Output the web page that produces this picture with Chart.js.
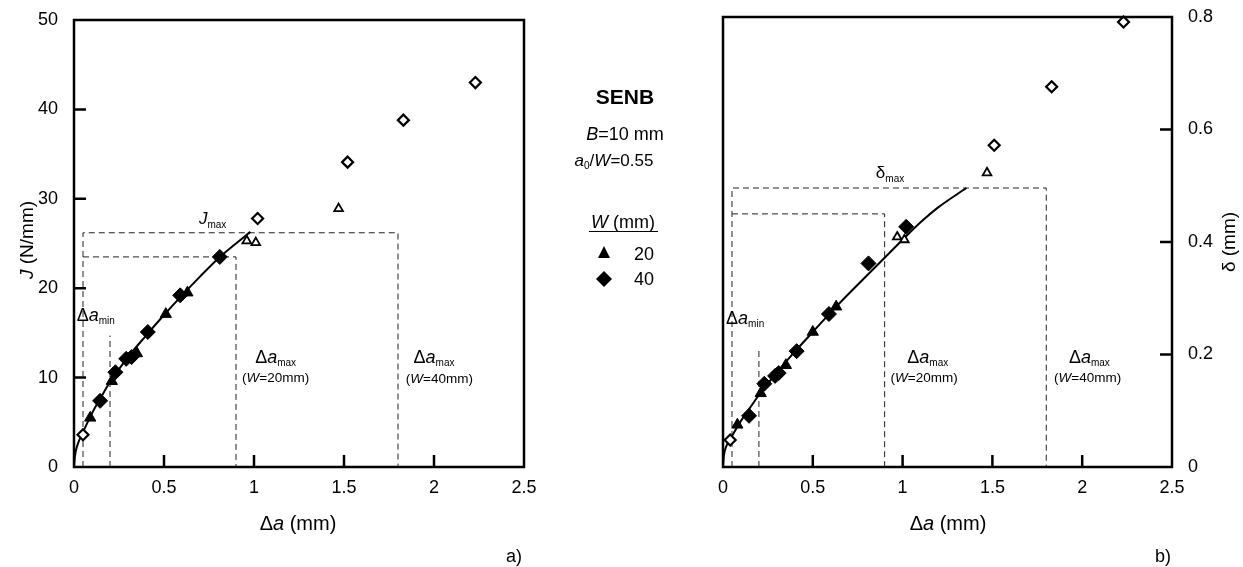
<!DOCTYPE html>
<html><head><meta charset="utf-8">
<script src="https://cdn.jsdelivr.net/npm/chart.js@4"></script>
<style>
html,body{margin:0;padding:0;background:#fff;width:1243px;height:567px;overflow:hidden}
#wl{position:absolute;left:0;top:0;width:700px;height:567px}
#wr{position:absolute;left:700px;top:0;width:543px;height:567px}
</style></head><body>
<div id="wl"><canvas id="cl"></canvas></div>
<div id="wr"><canvas id="cr"></canvas></div>
<script>
// ---------- DATA ----------
const xTickVals = [0, 0.5, 1, 1.5, 2, 2.5];
const xTickLabels = ['0', '0.5', '1', '1.5', '2', '2.5'];
const jTickVals = [0, 10, 20, 30, 40, 50];
const jTickLabels = ['0', '10', '20', '30', '40', '50'];
const dTickVals = [0, 0.2, 0.4, 0.6, 0.8];
const dTickLabels = ['0', '0.2', '0.4', '0.6', '0.8'];

// (a) J - Δa
const jW20_da = [0.09, 0.21, 0.35, 0.51, 0.63];
const jW20_J  = [5.5, 9.6, 12.7, 17.1, 19.5];
const jW40_da = [0.145, 0.23, 0.29, 0.32, 0.41, 0.59, 0.81];
const jW40_J  = [7.4, 10.6, 12.1, 12.3, 15.1, 19.2, 23.5];
const jW40open_da = [0.05, 1.02, 1.52, 1.83, 2.23];
const jW40open_J  = [3.6, 27.8, 34.1, 38.8, 43.0];
const jW20open_da = [0.96, 1.01, 1.47];
const jW20open_J  = [25.3, 25.1, 28.9];
const jFit_da = [0, 0.005, 0.02, 0.05, 0.1, 0.15, 0.2, 0.3, 0.4, 0.5, 0.6, 0.7, 0.8, 0.9, 0.98];
const jFit_J  = [0, 1.2, 2.5, 3.9, 6.0, 7.8, 9.5, 12.3, 14.7, 17.0, 19.2, 21.3, 23.3, 25.0, 26.3];
const jGuideOuter_da = [0.05, 0.05, 1.8, 1.8];
const jGuideOuter_J  = [0, 26.2, 26.2, 0];
const jGuideInner_da = [0.05, 0.9, 0.9];
const jGuideInner_J  = [23.5, 23.5, 0];
const jGuideMin_da = [0.2, 0.2];
const jGuideMin_J  = [0, 14.7];

// (b) δ - Δa
const dW20_da = [0.08, 0.21, 0.35, 0.50, 0.63];
const dW20_d  = [0.075, 0.131, 0.181, 0.24, 0.285];
const dW40_da = [0.145, 0.23, 0.29, 0.31, 0.41, 0.59, 0.81, 1.02];
const dW40_d  = [0.091, 0.148, 0.162, 0.167, 0.206, 0.272, 0.362, 0.427];
const dW40open_da = [0.04, 1.51, 1.83, 2.23];
const dW40open_d  = [0.048, 0.572, 0.676, 0.791];
const dW20open_da = [0.97, 1.01, 1.47];
const dW20open_d  = [0.409, 0.404, 0.523];
const dFit_da = [0, 0.005, 0.02, 0.05, 0.1, 0.15, 0.2, 0.3, 0.4, 0.5, 0.6, 0.7, 0.8, 0.9, 1.0, 1.1, 1.2, 1.355];
const dFit_d  = [0, 0.02, 0.038, 0.055, 0.082, 0.105, 0.128, 0.168, 0.205, 0.24, 0.275, 0.308, 0.34, 0.372, 0.404, 0.435, 0.462, 0.496];
const dGuideOuter_da = [0.05, 0.05, 1.8, 1.8];
const dGuideOuter_d  = [0, 0.496, 0.496, 0];
const dGuideInner_da = [0.05, 0.9, 0.9];
const dGuideInner_d  = [0.45, 0.45, 0];
const dGuideMin_da = [0.2, 0.2];
const dGuideMin_d  = [0, 0.211];

// ---------- HELPERS ----------
const F = '"Liberation Sans", Arial, Helvetica, sans-serif';
const fnt = (sz, st) => (st || '') + ' ' + sz + 'px ' + F;
const zip = (xs, ys) => xs.map((x, i) => ({x: x, y: ys[i]}));

function rich(ctx, x, y, segs, align) {
  let w = 0;
  for (const s of segs) { ctx.font = fnt(s[1], s[2]); w += ctx.measureText(s[0]).width; }
  let cx = align === 'center' ? x - w / 2 : align === 'right' ? x - w : x;
  ctx.textAlign = 'left'; ctx.textBaseline = 'alphabetic'; ctx.fillStyle = '#000';
  for (const s of segs) {
    ctx.font = fnt(s[1], s[2]);
    ctx.fillText(s[0], cx, y + (s[3] || 0));
    cx += ctx.measureText(s[0]).width;
  }
  return w;
}

const lineDs = (data) => ({data, showLine: true, pointRadius: 0, borderColor: '#000', backgroundColor: '#000', borderWidth: 2, cubicInterpolationMode: 'monotone', order: 5});
const guideDs = (data) => ({data, showLine: true, pointRadius: 0, borderColor: '#222', borderWidth: 1, borderDash: [6, 4], tension: 0, order: 6});
const ptDs = (data, style, r, filled, bw) => ({data, showLine: false, pointStyle: style, pointRadius: r, pointHoverRadius: r,
  backgroundColor: filled ? '#000' : '#fff', borderColor: '#000', borderWidth: bw, clip: false, order: 1});

function xScale() {
  return {type: 'linear', min: 0, max: 2.5,
    afterBuildTicks: s => { s.ticks = xTickVals.map(v => ({value: v})); },
    ticks: {callback: (v, i) => xTickLabels[i], font: {family: F, size: 18}, color: '#000', padding: 10, maxRotation: 0, autoSkip: false},
    grid: {display: false, drawTicks: false}, border: {display: false},
    afterFit: s => { s.height = 100; s.paddingLeft = 0; s.paddingRight = 0; }};
}

function decor(side, yVals, extra) {
  return {
    id: 'decor',
    afterDatasetsDraw(chart) {
      const ctx = chart.ctx, a = chart.chartArea, xs = chart.scales.x, ys = chart.scales.y;
      ctx.save();
      extra(ctx, xs, ys, a);
      ctx.strokeStyle = '#000'; ctx.lineWidth = 2.5; ctx.lineCap = 'butt';
      ctx.strokeRect(a.left, a.top, a.right - a.left, a.bottom - a.top);
      ctx.beginPath();
      for (const v of xTickVals.slice(1, -1)) {
        const px = xs.getPixelForValue(v);
        ctx.moveTo(px, a.bottom); ctx.lineTo(px, a.bottom - 12);
      }
      for (const v of yVals.slice(1, -1)) {
        const py = ys.getPixelForValue(v);
        if (side === 'left') { ctx.moveTo(a.left, py); ctx.lineTo(a.left + 12, py); }
        else { ctx.moveTo(a.right, py); ctx.lineTo(a.right - 12, py); }
      }
      ctx.stroke();
      ctx.restore();
    }
  };
}

const daSegs = (sub) => [['\u0394', 18], ['a', 18, 'italic'], [sub, 10, '', 3]];
const wSegs = (n) => [['(', 13.5], ['W', 13.5, 'italic'], ['=' + n + 'mm)', 13.5]];

// ---------- LEFT CHART (a) ----------
new Chart(document.getElementById('cl'), {
  type: 'scatter',
  data: {datasets: [
    ptDs(zip(jW40_da, jW40_J), 'rectRot', 7.5, true, 1),
    ptDs(zip(jW20_da, jW20_J), 'triangle', 6.5, true, 1),
    ptDs(zip(jW40open_da, jW40open_J), 'rectRot', 5.5, false, 2.2),
    ptDs(zip(jW20open_da, jW20open_J), 'triangle', 5, false, 1.8),
    lineDs(zip(jFit_da, jFit_J)),
    guideDs(zip(jGuideOuter_da, jGuideOuter_J)),
    guideDs(zip(jGuideInner_da, jGuideInner_J)),
    guideDs(zip(jGuideMin_da, jGuideMin_J))
  ]},
  options: {
    responsive: true, maintainAspectRatio: false, animation: false, devicePixelRatio: 1,
    layout: {padding: {top: 20, left: 0, right: 176, bottom: 0}},
    plugins: {legend: {display: false}, tooltip: {enabled: false}},
    events: [],
    scales: {
      x: xScale(),
      y: {type: 'linear', position: 'left', min: 0, max: 50,
        afterBuildTicks: s => { s.ticks = jTickVals.map(v => ({value: v})); },
        ticks: {callback: (v, i) => jTickLabels[i], font: {family: F, size: 18}, color: '#000', padding: 16, autoSkip: false},
        grid: {display: false, drawTicks: false}, border: {display: false},
        afterFit: s => { s.width = 74; s.paddingTop = 0; s.paddingBottom = 0; }}
    }
  },
  plugins: [decor('left', jTickVals, (ctx, xs, ys, a) => {
    const X = v => xs.getPixelForValue(v), Y = v => ys.getPixelForValue(v);
    rich(ctx, X(0.77), Y(27.8) + 6, [['J', 17, 'italic'], ['max', 10, '', 4]], 'center');
    rich(ctx, X(0.015), Y(17) + 6, daSegs('min'), 'left');
    rich(ctx, X(1.12), Y(12.3) + 6, daSegs('max'), 'center');
    rich(ctx, X(1.12), Y(10.1) + 5, wSegs(20), 'center');
    rich(ctx, X(2.0), Y(12.3) + 6, daSegs('max'), 'center');
    rich(ctx, X(2.03), Y(9.9) + 5, wSegs(40), 'center');
    // axis titles
    rich(ctx, 298, 530, [['\u0394', 20], ['a', 20, 'italic'], [' (mm)', 20]], 'center');
    ctx.save(); ctx.translate(26, 240); ctx.rotate(-Math.PI / 2);
    rich(ctx, 0, 7, [['J', 19, 'italic'], [' (N/mm)', 19]], 'center');
    ctx.restore();
    rich(ctx, 514, 562, [['a)', 18]], 'center');
    // central legend block
    rich(ctx, 625, 104, [['SENB', 21, 'bold']], 'center');
    rich(ctx, 625, 140, [['B', 18, 'italic'], ['=10 mm', 18]], 'center');
    rich(ctx, 614, 166, [['a', 17, 'italic'], ['0', 10, '', 3], ['/', 17], ['W', 17, 'italic'], ['=0.55', 17]], 'center');
    rich(ctx, 623, 228, [['W', 18, 'italic'], [' (mm)', 18]], 'center');
    ctx.strokeStyle = '#000'; ctx.lineWidth = 1.2;
    ctx.beginPath(); ctx.moveTo(589, 231.5); ctx.lineTo(658, 231.5); ctx.stroke();
    ctx.fillStyle = '#000';
    ctx.beginPath(); ctx.moveTo(604, 246); ctx.lineTo(610, 258); ctx.lineTo(598, 258); ctx.closePath(); ctx.fill();
    ctx.beginPath(); ctx.moveTo(604, 271); ctx.lineTo(612, 279); ctx.lineTo(604, 287); ctx.lineTo(596, 279); ctx.closePath(); ctx.fill();
    rich(ctx, 634, 260, [['20', 18]], 'left');
    rich(ctx, 634, 285, [['40', 18]], 'left');
  })]
});

// ---------- RIGHT CHART (b) ----------
new Chart(document.getElementById('cr'), {
  type: 'scatter',
  data: {datasets: [
    ptDs(zip(dW40_da, dW40_d), 'rectRot', 7.5, true, 1),
    ptDs(zip(dW20_da, dW20_d), 'triangle', 6.5, true, 1),
    ptDs(zip(dW40open_da, dW40open_d), 'rectRot', 5.5, false, 2.2),
    ptDs(zip(dW20open_da, dW20open_d), 'triangle', 5, false, 1.8),
    lineDs(zip(dFit_da, dFit_d)),
    guideDs(zip(dGuideOuter_da, dGuideOuter_d)),
    guideDs(zip(dGuideInner_da, dGuideInner_d)),
    guideDs(zip(dGuideMin_da, dGuideMin_d))
  ]},
  options: {
    responsive: true, maintainAspectRatio: false, animation: false, devicePixelRatio: 1,
    layout: {padding: {top: 17, left: 23, right: 0, bottom: 0}},
    plugins: {legend: {display: false}, tooltip: {enabled: false}},
    events: [],
    scales: {
      x: xScale(),
      y: {type: 'linear', position: 'right', min: 0, max: 0.8,
        afterBuildTicks: s => { s.ticks = dTickVals.map(v => ({value: v})); },
        ticks: {callback: (v, i) => dTickLabels[i], font: {family: F, size: 18}, color: '#000', padding: 16, autoSkip: false},
        grid: {display: false, drawTicks: false}, border: {display: false},
        afterFit: s => { s.width = 71; s.paddingTop = 0; s.paddingBottom = 0; }}
    }
  },
  plugins: [decor('right', dTickVals, (ctx, xs, ys, a) => {
    const X = v => xs.getPixelForValue(v), Y = v => ys.getPixelForValue(v);
    rich(ctx, X(0.93), Y(0.525) + 6, [['\u03b4', 17], ['max', 10, '', 4]], 'center');
    rich(ctx, X(0.017), Y(0.265) + 6, daSegs('min'), 'left');
    rich(ctx, X(1.14), Y(0.196) + 6, daSegs('max'), 'center');
    rich(ctx, X(1.12), Y(0.16) + 5, wSegs(20), 'center');
    rich(ctx, X(2.04), Y(0.196) + 6, daSegs('max'), 'center');
    rich(ctx, X(2.03), Y(0.16) + 5, wSegs(40), 'center');
    rich(ctx, 248, 530, [['\u0394', 20], ['a', 20, 'italic'], [' (mm)', 20]], 'center');
    ctx.save(); ctx.translate(528, 242); ctx.rotate(-Math.PI / 2);
    rich(ctx, 0, 7, [['\u03b4', 19], [' (mm)', 19]], 'center');
    ctx.restore();
    rich(ctx, 463, 562, [['b)', 18]], 'center');
  })]
});
</script>
</body></html>
